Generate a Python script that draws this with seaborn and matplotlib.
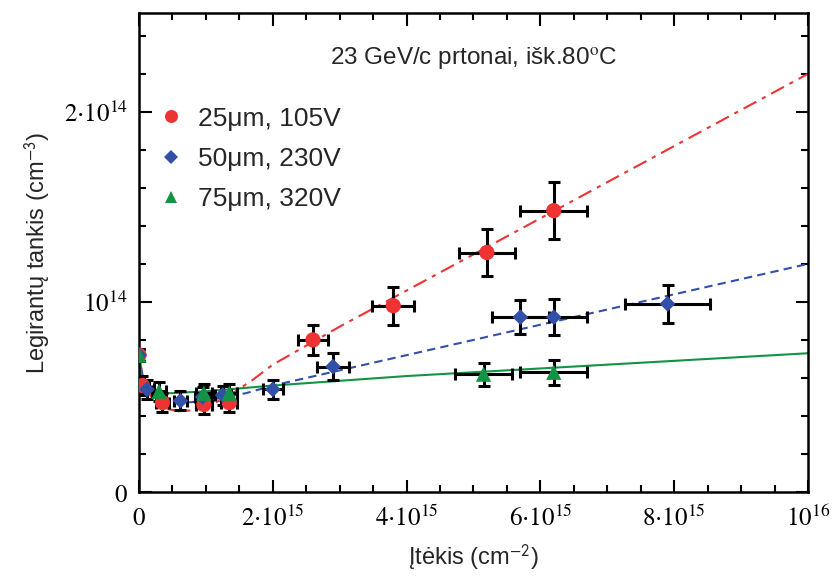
import matplotlib
matplotlib.use("Agg")
import matplotlib.pyplot as plt
from matplotlib.lines import Line2D
from matplotlib.ticker import MultipleLocator, FixedLocator, FixedFormatter
import seaborn as sns
import pandas as pd

# Fluence in units of 1e15 cm^-2, doping density in units of 1e14 cm^-3
red_x = [0.0, 0.05, 0.35, 0.97, 1.35, 2.6, 3.8, 5.2, 6.2]
red_y = [0.72, 0.56, 0.47, 0.46, 0.47, 0.80, 0.98, 1.26, 1.48]
red_xerr = [0.0, 0.1, 0.1, 0.12, 0.12, 0.22, 0.31, 0.42, 0.5]
red_yerr = [0.03, 0.05, 0.05, 0.05, 0.05, 0.08, 0.10, 0.125, 0.15]

blue_x = [0.0, 0.12, 0.62, 0.95, 1.25, 2.0, 2.9, 5.7, 6.2, 7.9]
blue_y = [0.72, 0.54, 0.48, 0.50, 0.51, 0.54, 0.66, 0.92, 0.92, 0.99]
blue_xerr = [0.0, 0.1, 0.1, 0.12, 0.12, 0.15, 0.24, 0.43, 0.5, 0.63]
blue_yerr = [0.03, 0.05, 0.05, 0.05, 0.05, 0.05, 0.07, 0.09, 0.095, 0.1]

green_x = [0.0, 0.3, 0.97, 1.35, 5.15, 6.2]
green_y = [0.72, 0.53, 0.52, 0.52, 0.62, 0.63]
green_xerr = [0.0, 0.1, 0.12, 0.12, 0.42, 0.5]
green_yerr = [0.03, 0.05, 0.05, 0.05, 0.06, 0.065]

# Fitted curves
red_fit_x = [0, 0.05, 0.1, 0.2, 0.3, 0.45, 0.6, 0.8, 1.0, 1.2, 1.4, 1.7, 2.0, 3, 4, 6, 8, 10]
red_fit_y = [0.72, 0.62, 0.55, 0.49, 0.46, 0.435, 0.425, 0.43, 0.45, 0.48, 0.52, 0.59, 0.67, 0.87, 1.06, 1.44, 1.82, 2.20]
blue_fit_x = [0, 0.05, 0.1, 0.2, 0.35, 0.5, 0.7, 1.0, 1.3, 1.6, 2.0, 4, 6, 8, 10]
blue_fit_y = [0.72, 0.62, 0.56, 0.51, 0.48, 0.47, 0.47, 0.48, 0.50, 0.52, 0.56, 0.72, 0.88, 1.04, 1.20]
green_fit_x = [0, 0.03, 0.06, 0.1, 0.2, 0.5, 1, 2, 4, 6, 8, 10]
green_fit_y = [0.72, 0.62, 0.56, 0.53, 0.52, 0.52, 0.53, 0.56, 0.61, 0.65, 0.69, 0.73]

labels = ["25\u03bcm, 105V", "50\u03bcm, 230V", "75\u03bcm, 320V"]
colors = ["#ee3333", "#3350a8", "#129445"]
markers = ["o", "D", "^"]
msizes = [11, 8, 11]

x_ticks = [0, 2, 4, 6, 8, 10]
x_ticklabels = ["$0$", r"$2{\cdot}10^{15}$", r"$4{\cdot}10^{15}$", r"$6{\cdot}10^{15}$",
                r"$8{\cdot}10^{15}$", "$10^{16}$"]
y_ticks = [0, 1, 2]
y_ticklabels = ["$0$", "$10^{14}$", r"$2{\cdot}10^{14}$"]

sns.set_theme(style="ticks")
plt.rcParams["font.family"] = ["Liberation Sans", "DejaVu Sans"]
plt.rcParams["mathtext.fontset"] = "stix"

fig = plt.figure(figsize=(8.4, 5.8), dpi=100)
ax = fig.add_axes([139 / 840, 88 / 580, 669 / 840, 479 / 580])

# fit curves
fits = [(red_fit_x, red_fit_y, (0, (7, 3, 2, 3))),
        (blue_fit_x, blue_fit_y, (0, (4, 2.5))),
        (green_fit_x, green_fit_y, "-")]
for (fx, fy, ls), c in zip(fits, colors):
    d = pd.DataFrame({"x": fx, "y": fy})
    sns.lineplot(data=d, x="x", y="y", ax=ax, color=c, linewidth=1.5,
                 linestyle=ls, sort=False, estimator=None, zorder=2)

series = [(red_x, red_y, red_xerr, red_yerr),
          (blue_x, blue_y, blue_xerr, blue_yerr),
          (green_x, green_y, green_xerr, green_yerr)]

for (sx, sy, sxe, sye) in series:
    ax.errorbar(sx, sy, xerr=sxe, yerr=sye, fmt="none", ecolor="black",
                elinewidth=2.2, capsize=4.5, capthick=2.2, zorder=3)

for (sx, sy, _, _), c, m, s in zip(series, colors, markers, msizes):
    d = pd.DataFrame({"x": sx, "y": sy})
    sns.scatterplot(data=d, x="x", y="y", ax=ax, color=c, marker=m,
                    s=s ** 2, edgecolor="none", linewidth=0, zorder=4)

ax.set_xlim(0, 10)
ax.set_ylim(0, 2.52)

ax.xaxis.set_major_locator(FixedLocator(x_ticks))
ax.xaxis.set_major_formatter(FixedFormatter(x_ticklabels))
ax.xaxis.set_minor_locator(MultipleLocator(0.5))
ax.yaxis.set_major_locator(FixedLocator(y_ticks))
ax.yaxis.set_major_formatter(FixedFormatter(y_ticklabels))
ax.yaxis.set_minor_locator(MultipleLocator(0.2))

ax.tick_params(which="both", direction="in", top=True, right=True,
               colors="black", width=1.5)
ax.tick_params(axis="x", which="major", length=9, labelsize=18, pad=10)
ax.tick_params(axis="y", which="major", length=9, labelsize=18, pad=8)
ax.tick_params(which="minor", length=5)
for sp in ax.spines.values():
    sp.set_linewidth(1.8)
    sp.set_color("black")

ax.set_xlabel("\u012etėkis (cm$^{\\mathsf{-2}}$)", fontsize=17, labelpad=8)
ax.set_ylabel("Legirantų tankis (cm$^{\\mathsf{-3}}$)", fontsize=17, labelpad=8)

ax.text(0.5, 0.906, "23 GeV/c prtonai, išk.80$^{\\mathrm{o}}$C",
        transform=ax.transAxes, ha="center", va="center", fontsize=17.5)

handles = [Line2D([], [], linestyle="none", marker=m, color=c, markersize=s * (0.85 if m != "D" else 0.9),
                  markeredgewidth=0)
           for c, m, s in zip(colors, markers, msizes)]
ax.legend(handles, labels, loc="upper left", bbox_to_anchor=(0.005, 0.843),
          frameon=False, fontsize=19, handlelength=0.8, handletextpad=0.6,
          labelspacing=0.62, borderaxespad=0.3)

fig.savefig("out.png", dpi=100)
